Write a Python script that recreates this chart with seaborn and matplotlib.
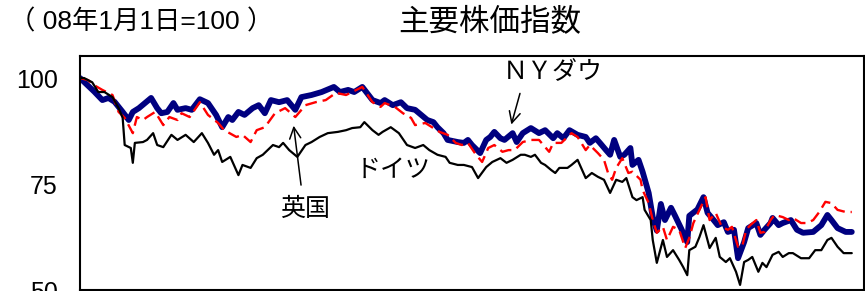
import pandas as pd
import matplotlib.pyplot as plt
import seaborn as sns

# days since 2008-01-01, index (08/1/1 = 100)
ny_days = [0, 7, 11, 14, 17, 21, 24, 26, 29, 32, 35, 38, 40, 43, 46, 48, 52, 55, 59, 63, 67, 70, 73, 75, 78,
           81, 85, 88, 91, 94, 98, 102, 106, 109, 114, 119, 125, 128, 132, 135, 139, 144, 148, 150, 154, 158,
           161, 165, 168, 171, 174, 176, 179, 181, 186, 189, 191, 193, 197, 200, 202, 204, 207, 209, 213, 215,
           218, 222, 226, 229, 233, 235, 238, 241, 245, 249, 251, 254, 256, 259, 261, 263, 266, 268, 271, 272,
           275, 277, 280, 282, 284, 286, 288, 291, 293, 296, 299, 300, 304, 307, 309, 312, 314, 317, 319, 322,
           324, 327, 329, 333, 335, 337, 340, 341, 344, 346, 350, 353, 356, 361, 365, 368, 370, 373, 377, 380]
ny_vals = [100, 96.8, 94.8, 95.3, 94.4, 92, 90.1, 92, 92.9, 94.1, 95.3, 92.9, 91.7, 92, 94.1, 92.5, 92.9, 92.5,
           95, 94.1, 91.3, 88.4, 90.8, 90.1, 92, 91.3, 92.9, 93.6, 91.7, 94.8, 94.3, 94.8, 92.5, 95.5, 96, 96.7,
           97.9, 96.7, 97.2, 96.7, 97.9, 94.8, 94.1, 94.8, 93.6, 94.3, 92.9, 92.5, 91.3, 90.1, 89.6, 88.4, 87,
           85.4, 84.9, 84.7, 85.4, 84.2, 82.3, 85.4, 86.1, 87.3, 85.8, 85.4, 87, 84.9, 87, 88.2, 87, 87.7, 85.8,
           87, 85.8, 87.7, 86.6, 86.1, 84.7, 85.8, 84.7, 83, 81.9, 85.4, 81.4, 81.9, 83.5, 79.5, 80.7, 77.9, 72.9,
           67.2, 64, 70.3, 66.5, 69.4, 67.5, 64.5, 61.3, 67.5, 69, 71.9, 68.2, 66.5, 65.3, 66, 63.7, 64.2, 57.5,
           61.3, 64.6, 65.8, 63, 64.2, 65.8, 67, 65.3, 65.8, 66.5, 64.2, 63.5, 63.7, 65.3, 67.7, 66.5, 64.6,
           63.7, 63.7]

uk_days = [0, 4, 7, 11, 16, 19, 22, 26, 28, 31, 33, 37, 41, 44, 48, 50, 54, 59, 63, 68, 71, 77, 80, 84, 87, 91,
           96, 101, 106, 111, 116, 121, 126, 131, 134, 139, 144, 148, 150, 155, 159, 163, 165, 170, 174, 177,
           181, 185, 188, 191, 195, 198, 201, 204, 208, 211, 214, 218, 222, 226, 231, 233, 237, 242, 245, 249,
           251, 255, 258, 260, 262, 264, 267, 270, 272, 276, 277, 280, 282, 284, 287, 289, 292, 295, 298, 300,
           302, 305, 308, 310, 313, 316, 319, 321, 324, 326, 328, 330, 333, 335, 337, 340, 342, 346, 349, 351,
           355, 358, 361, 364, 367, 370, 373, 377, 380]
uk_vals = [100, 99.5, 98.3, 97.2, 96, 92, 90.6, 87, 90.8, 90.1, 90.8, 92, 88.9, 90.8, 90.1, 91.7, 90.8, 94.3,
           91.3, 89.4, 87.7, 86.1, 86.6, 84.9, 87.7, 88.4, 91.7, 92.9, 90.8, 93.6, 94.3, 94.8, 96.5, 96, 96.7,
           97.9, 94.3, 93.2, 94.1, 93.2, 91.7, 90.6, 88.9, 89.4, 88.2, 87.3, 86.6, 84.7, 84.2, 84.7, 81.9, 80.2,
           83.5, 84.2, 82.6, 83, 83, 84.9, 85.4, 85.4, 82.6, 84.7, 84.7, 87, 86.1, 83, 84.2, 82.3, 80.7, 77.6,
           76, 78.8, 81.1, 77.6, 77.9, 76, 73.6, 70.5, 66.5, 63.5, 64.9, 61.8, 64.9, 64.2, 59.9, 62.3, 65.8,
           68.9, 71.9, 66.5, 68.2, 64.9, 64.2, 64.9, 60.2, 60.2, 64.2, 65.3, 66.5, 63.5, 63.7, 66.5, 67.7, 67.2,
           66.5, 67, 65.8, 65.8, 66.5, 68.4, 70.8, 70.5, 68.9, 68.4, 68.4]

de_days = [0, 2, 6, 9, 12, 16, 19, 21, 22, 25, 26, 27, 31, 33, 36, 38, 41, 45, 48, 52, 56, 60, 63, 66, 68, 70,
           74, 78, 80, 84, 87, 90, 95, 98, 100, 103, 107, 111, 114, 118, 122, 127, 131, 134, 138, 140, 144, 147,
           149, 153, 157, 161, 165, 169, 172, 176, 180, 182, 186, 189, 193, 196, 200, 203, 207, 210, 213, 217,
           219, 222, 224, 227, 229, 232, 234, 236, 240, 242, 245, 249, 252, 255, 258, 261, 264, 267, 269, 272,
           274, 277, 278, 281, 282, 284, 287, 289, 292, 295, 297, 299, 300, 303, 305, 307, 310, 313, 315, 318,
           320, 323, 325, 327, 329, 331, 334, 336, 338, 341, 344, 346, 349, 351, 355, 359, 362, 365, 368, 370,
           373, 376, 380]
de_vals = [100, 100, 99, 96.7, 96.7, 95.5, 92.9, 90.6, 84.2, 83.5, 80, 84.7, 84.9, 85.4, 87, 84.2, 83.7, 86.6,
           85.4, 86.6, 84.9, 87, 84.7, 81.9, 83, 80.2, 81.4, 77.1, 79.5, 78.8, 81.1, 81.9, 84.2, 83.7, 84.7, 83,
           81.4, 84.2, 84.9, 86.1, 87, 87.3, 87.7, 88.2, 88.4, 89.6, 87.7, 86.6, 87.3, 88.4, 87, 84.2, 83.5, 84.2,
           83, 81.9, 81.4, 80, 79.5, 79.5, 79, 76.4, 79, 80.2, 81.1, 80, 80.7, 81.9, 81.9, 81.4, 81.9, 80, 79.5,
           78.3, 77.6, 78.8, 78.8, 79.5, 80.7, 76.4, 77.6, 76.7, 76, 72.9, 76, 75.5, 76.4, 71.9, 71.2, 71.9, 68.9,
           66.5, 61.8, 56.4, 61.8, 57.8, 59.4, 57.1, 55.4, 53.5, 59.4, 60.2, 62.5, 65.3, 59.9, 62.3, 57.8, 56.6,
           57.5, 54.3, 51.2, 56.6, 57.1, 57.8, 54.3, 56.4, 55.4, 58.3, 59, 57.8, 58.7, 58.7, 57.5, 57.5, 59.4,
           59.4, 61.8, 62.3, 60.2, 58.7, 58.7]

ny = pd.DataFrame({"day": ny_days, "value": ny_vals})
uk = pd.DataFrame({"day": uk_days, "value": uk_vals})
de = pd.DataFrame({"day": de_days, "value": de_vals})

sns.set_style("white")
plt.rcParams["font.family"] = ["Liberation Sans", "Noto Sans CJK JP", "DejaVu Sans"]
plt.rcParams["text.color"] = "black"
plt.rcParams["ytick.labelcolor"] = "black"

fig = plt.figure(figsize=(8.65, 2.91), dpi=100)
ax = fig.add_axes([0.0925, 0.0034, 0.9063, 0.8042])

sns.lineplot(data=ny, x="day", y="value", color="#000080", linewidth=4.2, ax=ax)
sns.lineplot(data=uk, x="day", y="value", color="#ff0000", linewidth=1.7, ax=ax)
ax.lines[-1].set_dashes((5, 2.5))
sns.lineplot(data=de, x="day", y="value", color="black", linewidth=1.6, ax=ax)

ax.set_xlim(0, 386)
ax.set_ylim(50, 105.2)
ax.set_xticks([])
ax.set_yticks([50, 75, 100])
ax.tick_params(axis="y", direction="in", length=7, width=1, color="#808080", labelsize=18, pad=16)
ax.set_xlabel("")
ax.set_ylabel("")
for s in ax.spines.values():
    s.set_color("black")
    s.set_linewidth(1.5)

ax.text(233, 101.4, "ＮＹダウ", fontsize=18, ha="center", va="center")
ax.annotate("", xy=(212, 88.4), xytext=(217, 97.0),
            arrowprops=dict(arrowstyle="->", color="black", lw=1.1, mutation_scale=20))
ax.text(111, 69.1, "英国", fontsize=18, ha="center", va="center")
ax.annotate("", xy=(105, 89.4), xytext=(109, 74.1),
            arrowprops=dict(arrowstyle="->", color="black", lw=1.1, mutation_scale=20))
ax.text(154, 78.3, "ドイツ", fontsize=18, ha="center", va="center")

fig.text(0.163, 0.924, "（ 08年1月1日=100 ）", fontsize=19, ha="center", va="center")
fig.text(0.566, 0.924, "主要株価指数", fontsize=22, ha="center", va="center")

fig.savefig("out.png", dpi=100)
